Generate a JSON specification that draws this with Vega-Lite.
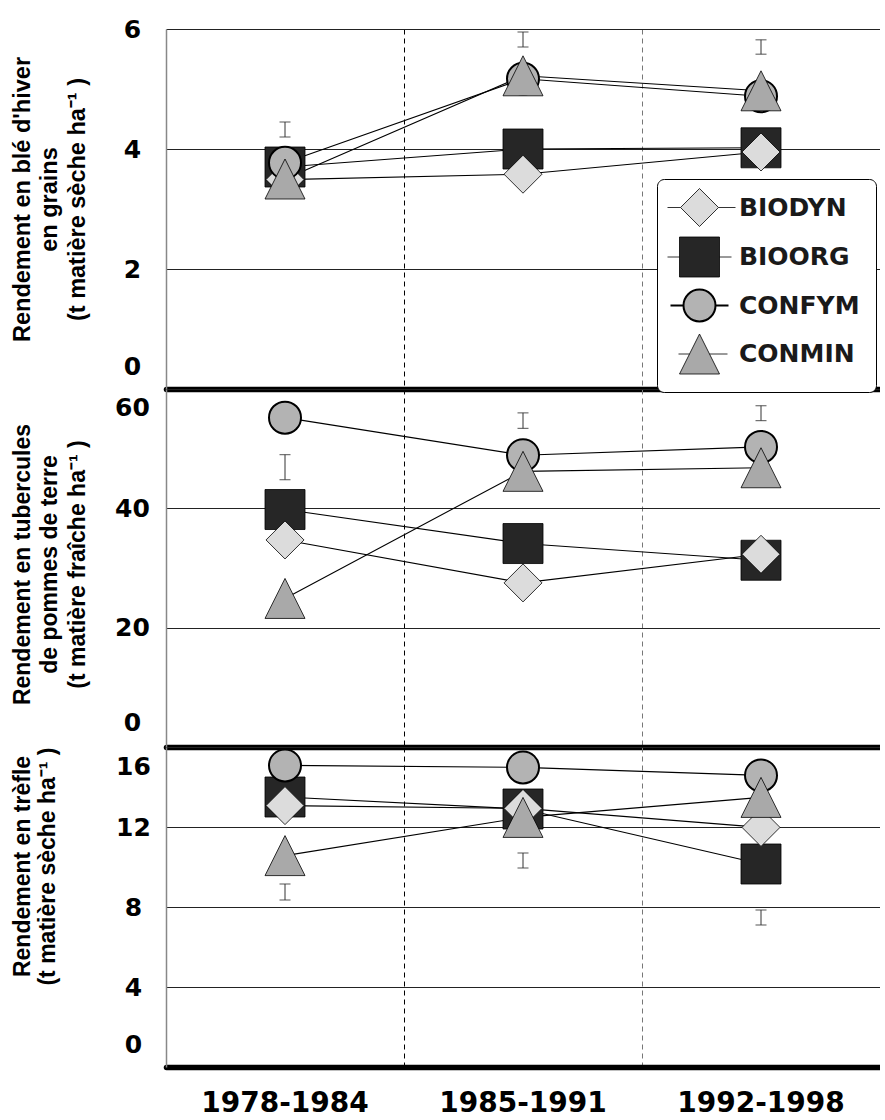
{
  "$schema": "https://vega.github.io/schema/vega-lite/v6.json",
  "background": "white",
  "padding": {"left": 10, "top": 17, "right": 0, "bottom": 0},
  "spacing": 0,
  "bounds": "flush",
  "config": {
    "view": {"stroke": null},
    "legend": {"orient": "none", "legendX": 491, "legendY": 150, "padding": 16,
      "strokeColor": "black", "fillColor": "white", "cornerRadius": 7, "symbolSize": 1600, "rowPadding": 5.5,
      "symbolOffset": 14, "labelOffset": 27, "labelFont": "DejaVu Sans", "labelFontSize": 25, "labelFontWeight": "bold", "labelColor": "#1a1a1a",
      "symbolStrokeColor": "black", "labelLimit": 400}
  },
  "datasets": {
    "pts": [
      {"panel": "ble", "period": "1978-1984", "series": "BIOORG", "value": 3.70},
      {"panel": "ble", "period": "1978-1984", "series": "BIODYN", "value": 3.49},
      {"panel": "ble", "period": "1978-1984", "series": "CONFYM", "value": 3.77},
      {"panel": "ble", "period": "1978-1984", "series": "CONMIN", "value": 3.50},
      {"panel": "ble", "period": "1985-1991", "series": "BIOORG", "value": 4.00},
      {"panel": "ble", "period": "1985-1991", "series": "BIODYN", "value": 3.58},
      {"panel": "ble", "period": "1985-1991", "series": "CONFYM", "value": 5.17},
      {"panel": "ble", "period": "1985-1991", "series": "CONMIN", "value": 5.22},
      {"panel": "ble", "period": "1992-1998", "series": "BIOORG", "value": 4.02},
      {"panel": "ble", "period": "1992-1998", "series": "BIODYN", "value": 3.95},
      {"panel": "ble", "period": "1992-1998", "series": "CONFYM", "value": 4.88},
      {"panel": "ble", "period": "1992-1998", "series": "CONMIN", "value": 4.97},
      {"panel": "pdt", "period": "1978-1984", "series": "BIOORG", "value": 39.8},
      {"panel": "pdt", "period": "1978-1984", "series": "BIODYN", "value": 34.7},
      {"panel": "pdt", "period": "1978-1984", "series": "CONFYM", "value": 55.2},
      {"panel": "pdt", "period": "1978-1984", "series": "CONMIN", "value": 24.9},
      {"panel": "pdt", "period": "1985-1991", "series": "BIOORG", "value": 34.1},
      {"panel": "pdt", "period": "1985-1991", "series": "BIODYN", "value": 27.5},
      {"panel": "pdt", "period": "1985-1991", "series": "CONFYM", "value": 48.9},
      {"panel": "pdt", "period": "1985-1991", "series": "CONMIN", "value": 46.2},
      {"panel": "pdt", "period": "1992-1998", "series": "BIOORG", "value": 31.3},
      {"panel": "pdt", "period": "1992-1998", "series": "BIODYN", "value": 32.3},
      {"panel": "pdt", "period": "1992-1998", "series": "CONFYM", "value": 50.3},
      {"panel": "pdt", "period": "1992-1998", "series": "CONMIN", "value": 46.8},
      {"panel": "tre", "period": "1978-1984", "series": "BIOORG", "value": 13.5},
      {"panel": "tre", "period": "1978-1984", "series": "BIODYN", "value": 13.07},
      {"panel": "tre", "period": "1978-1984", "series": "CONFYM", "value": 15.08},
      {"panel": "tre", "period": "1978-1984", "series": "CONMIN", "value": 10.57},
      {"panel": "tre", "period": "1985-1991", "series": "BIOORG", "value": 12.9},
      {"panel": "tre", "period": "1985-1991", "series": "BIODYN", "value": 12.93},
      {"panel": "tre", "period": "1985-1991", "series": "CONFYM", "value": 14.98},
      {"panel": "tre", "period": "1985-1991", "series": "CONMIN", "value": 12.48},
      {"panel": "tre", "period": "1992-1998", "series": "BIOORG", "value": 10.15},
      {"panel": "tre", "period": "1992-1998", "series": "BIODYN", "value": 11.98},
      {"panel": "tre", "period": "1992-1998", "series": "CONFYM", "value": 14.58},
      {"panel": "tre", "period": "1992-1998", "series": "CONMIN", "value": 13.48}
    ],
    "err": [
      {"panel": "ble", "period": "1978-1984", "value": 4.2, "hi": 4.45},
      {"panel": "ble", "period": "1985-1991", "value": 5.7, "hi": 5.95},
      {"panel": "ble", "period": "1992-1998", "value": 5.58, "hi": 5.82},
      {"panel": "pdt", "period": "1978-1984", "value": 44.8, "hi": 49.0},
      {"panel": "pdt", "period": "1985-1991", "value": 53.4, "hi": 56.0},
      {"panel": "pdt", "period": "1992-1998", "value": 54.7, "hi": 57.2},
      {"panel": "tre", "period": "1978-1984", "value": 8.35, "hi": 9.15},
      {"panel": "tre", "period": "1985-1991", "value": 9.95, "hi": 10.7},
      {"panel": "tre", "period": "1992-1998", "value": 7.1, "hi": 7.85}
    ]
  },
  "vconcat": [
    {
      "width": 714,
      "height": 360,
      "encoding": {
        "x": {"field": "period", "type": "nominal",
          "scale": {"domain": ["1978-1984", "1985-1991", "1992-1998"], "paddingInner": 0, "paddingOuter": 0},
          "axis": {"title": null, "labels": false, "ticks": false, "domainColor": "black", "domainWidth": 5.5, "domainCap": "round",
            "grid": true, "bandPosition": 0, "gridDash": [5, 4], "gridWidth": 1,
            "gridColor": {"condition": {"test": "datum.value === '1992-1998'", "value": "#777777"}, "value": "black"},
            "gridOpacity": {"condition": {"test": "datum.value === '1978-1984'", "value": 0}, "value": 1}}},
        "y": {"field": "value", "type": "quantitative", "scale": {"domain": [0, 6], "nice": false},
          "axis": {"values": [0, 2, 4, 6], "title": ["Rendement en blé d'hiver", "en grains", "(t matière sèche ha⁻¹ )"],
            "domainColor": "#888888", "domainWidth": 1.5, "ticks": false, "tickSize": 0,
            "grid": true, "gridColor": "#222222", "gridWidth": 1,
            "labelFont": "DejaVu Sans", "labelFontSize": 25, "labelFontWeight": "bold", "labelColor": "black",
            "labelAlign": "center", "labelBaseline": "middle", "labelPadding": 34, "labelOverlap": false,
            "labelOffset": {"condition": [{"test": "datum.value === 0", "value": -23}], "value": 0},
            "titleFont": "Liberation Sans", "titleFontSize": 23.5, "titleFontWeight": "bold", "titleColor": "black",
            "titleLineHeight": 27.5, "titleBaseline": "middle", "titleAlign": "center", "titleAngle": 270,
            "titleX": -144, "titleY": 170}}
      },
      "layer": [
        {"data": {"name": "pts"}, "transform": [{"filter": "datum.panel === 'ble'"}],
          "mark": {"type": "line", "color": "black", "strokeWidth": 1.1},
          "encoding": {"detail": {"field": "series"}}},
        {"data": {"name": "err"}, "transform": [{"filter": "datum.panel === 'ble'"}],
          "mark": {"type": "errorbar", "ticks": {"size": 11, "thickness": 1.2, "color": "#333333"}, "rule": {"color": "#333333", "strokeWidth": 1}},
          "encoding": {"y2": {"field": "hi"}}},
        {"data": {"name": "pts"}, "transform": [{"filter": "datum.panel === 'ble'"}],
          "mark": {"type": "point", "filled": true, "size": 1600, "stroke": "black", "opacity": 1},
          "encoding": {
            "shape": {"field": "series", "type": "nominal",
              "scale": {"domain": ["BIOORG", "BIODYN", "CONFYM", "CONMIN"],
                "range": ["M-1,-1L1,-1L1,1L-1,1Z", "M-0.95,0L0,-0.95L0.95,0L0,0.95Z", "M-0.8,0A0.8,0.8,0,1,1,0.8,0A0.8,0.8,0,1,1,-0.8,0Z", "M0,-1L1,1L-1,1Z"]},
              "legend": null},
            "fill": {"field": "series", "type": "nominal",
              "scale": {"domain": ["BIODYN", "BIOORG", "CONFYM", "CONMIN"], "range": ["#dcdcdc", "#262626", "#b3b3b3", "#a9a9a9"]},
              "legend": {"title": null,
                "encoding": {"symbols": {
                  "stroke": {"value": "black"},
                  "strokeWidth": {"value": {"expr": "datum.value === 'CONFYM' ? 2 : 0.8"}},
                  "shape": {"value": {"expr": "datum.value === 'BIODYN' ? 'M-1.6,0L-0.95,0M0.95,0L1.8,0M-0.95,0L0,-0.95L0.95,0L0,0.95Z' : datum.value === 'BIOORG' ? 'M-1.6,0L-1,0M1,0L1.6,0M-1,-1L1,-1L1,1L-1,1Z' : datum.value === 'CONFYM' ? 'M-1.45,0L-0.8,0M0.8,0L1.45,0M-0.8,0A0.8,0.8,0,1,1,0.8,0A0.8,0.8,0,1,1,-0.8,0Z' : 'M-1.05,0L-0.5,0M0.5,0L1.4,0M0,-1L1,1L-1,1Z'"}}}}}},
            "strokeWidth": {"condition": {"test": "datum.series === 'CONFYM'", "value": 2}, "value": 0.8}
          }}
      ]
    },
    {
      "width": 714,
      "height": 358,
      "encoding": {
        "x": {"field": "period", "type": "nominal",
          "scale": {"domain": ["1978-1984", "1985-1991", "1992-1998"], "paddingInner": 0, "paddingOuter": 0},
          "axis": {"title": null, "labels": false, "ticks": false, "domainColor": "black", "domainWidth": 5.5, "domainCap": "round",
            "grid": true, "bandPosition": 0, "gridDash": [5, 4], "gridWidth": 1,
            "gridColor": {"condition": {"test": "datum.value === '1992-1998'", "value": "#777777"}, "value": "black"},
            "gridOpacity": {"condition": {"test": "datum.value === '1978-1984'", "value": 0}, "value": 1}}},
        "y": {"field": "value", "type": "quantitative", "scale": {"domain": [0, 60], "nice": false},
          "axis": {"values": [0, 20, 40, 60], "title": ["Rendement en tubercules", "de pommes de terre", "(t matière fraîche ha⁻¹ )"],
            "domainColor": "#888888", "domainWidth": 1.5, "ticks": false, "tickSize": 0,
            "grid": true, "gridColor": "#222222", "gridWidth": 1,
            "labelFont": "DejaVu Sans", "labelFontSize": 25, "labelFontWeight": "bold", "labelColor": "black",
            "labelAlign": "center", "labelBaseline": "middle", "labelPadding": 34, "labelOverlap": false,
            "labelOffset": {"condition": [{"test": "datum.value === 0", "value": -25}, {"test": "datum.value === 60", "value": 18}], "value": 0},
            "titleFont": "Liberation Sans", "titleFontSize": 23, "titleFontWeight": "bold", "titleColor": "black",
            "titleLineHeight": 27.5, "titleBaseline": "middle", "titleAlign": "center", "titleAngle": 270,
            "titleX": -144, "titleY": 175}}
      },
      "layer": [
        {"data": {"name": "pts"}, "transform": [{"filter": "datum.panel === 'pdt'"}],
          "mark": {"type": "line", "color": "black", "strokeWidth": 1.1},
          "encoding": {"detail": {"field": "series"}}},
        {"data": {"name": "err"}, "transform": [{"filter": "datum.panel === 'pdt'"}],
          "mark": {"type": "errorbar", "ticks": {"size": 11, "thickness": 1.2, "color": "#333333"}, "rule": {"color": "#333333", "strokeWidth": 1}},
          "encoding": {"y2": {"field": "hi"}}},
        {"data": {"name": "pts"}, "transform": [{"filter": "datum.panel === 'pdt'"}],
          "mark": {"type": "point", "filled": true, "size": 1600, "stroke": "black", "opacity": 1},
          "encoding": {
            "shape": {"field": "series", "type": "nominal",
              "scale": {"domain": ["BIOORG", "BIODYN", "CONFYM", "CONMIN"],
                "range": ["M-1,-1L1,-1L1,1L-1,1Z", "M-0.95,0L0,-0.95L0.95,0L0,0.95Z", "M-0.8,0A0.8,0.8,0,1,1,0.8,0A0.8,0.8,0,1,1,-0.8,0Z", "M0,-1L1,1L-1,1Z"]},
              "legend": null},
            "fill": {"field": "series", "type": "nominal",
              "scale": {"domain": ["BIODYN", "BIOORG", "CONFYM", "CONMIN"], "range": ["#dcdcdc", "#262626", "#b3b3b3", "#a9a9a9"]},
              "legend": null},
            "strokeWidth": {"condition": {"test": "datum.series === 'CONFYM'", "value": 2}, "value": 0.8}
          }}
      ]
    },
    {
      "width": 714,
      "height": 320,
      "encoding": {
        "x": {"field": "period", "type": "nominal",
          "scale": {"domain": ["1978-1984", "1985-1991", "1992-1998"], "paddingInner": 0, "paddingOuter": 0},
          "axis": {"title": null, "labels": true, "ticks": false, "domainColor": "black", "domainWidth": 5.5, "domainCap": "round",
            "labelFont": "DejaVu Sans", "labelFontSize": 28, "labelFontWeight": "bold", "labelColor": "black", "labelAngle": 0,
            "labelPadding": 22, "labelBaseline": "top",
            "grid": true, "bandPosition": 0, "gridDash": [5, 4], "gridWidth": 1,
            "gridColor": {"condition": {"test": "datum.value === '1992-1998'", "value": "#777777"}, "value": "black"},
            "gridOpacity": {"condition": {"test": "datum.value === '1978-1984'", "value": 0}, "value": 1}}},
        "y": {"field": "value", "type": "quantitative", "scale": {"domain": [0, 16], "nice": false},
          "axis": {"values": [0, 4, 8, 12, 16], "title": ["Rendement en trèfle", "(t matière sèche ha⁻¹ )"],
            "domainColor": "#888888", "domainWidth": 1.5, "ticks": false, "tickSize": 0,
            "grid": true, "gridColor": "#222222", "gridWidth": 1,
            "labelFont": "DejaVu Sans", "labelFontSize": 25, "labelFontWeight": "bold", "labelColor": "black",
            "labelAlign": "center", "labelBaseline": "middle", "labelPadding": 33, "labelOverlap": false,
            "labelOffset": {"condition": [{"test": "datum.value === 0", "value": -23}, {"test": "datum.value === 16", "value": 19}], "value": 0},
            "titleFont": "Liberation Sans", "titleFontSize": 23, "titleFontWeight": "bold", "titleColor": "black",
            "titleLineHeight": 25, "titleBaseline": "middle", "titleAlign": "center", "titleAngle": 270,
            "titleX": -144, "titleY": 119}}
      },
      "layer": [
        {"data": {"name": "pts"}, "transform": [{"filter": "datum.panel === 'tre'"}],
          "mark": {"type": "line", "color": "black", "strokeWidth": 1.1},
          "encoding": {"detail": {"field": "series"}}},
        {"data": {"name": "err"}, "transform": [{"filter": "datum.panel === 'tre'"}],
          "mark": {"type": "errorbar", "ticks": {"size": 11, "thickness": 1.2, "color": "#333333"}, "rule": {"color": "#333333", "strokeWidth": 1}},
          "encoding": {"y2": {"field": "hi"}}},
        {"data": {"name": "pts"}, "transform": [{"filter": "datum.panel === 'tre'"}],
          "mark": {"type": "point", "filled": true, "size": 1600, "stroke": "black", "opacity": 1},
          "encoding": {
            "shape": {"field": "series", "type": "nominal",
              "scale": {"domain": ["BIOORG", "BIODYN", "CONFYM", "CONMIN"],
                "range": ["M-1,-1L1,-1L1,1L-1,1Z", "M-0.95,0L0,-0.95L0.95,0L0,0.95Z", "M-0.8,0A0.8,0.8,0,1,1,0.8,0A0.8,0.8,0,1,1,-0.8,0Z", "M0,-1L1,1L-1,1Z"]},
              "legend": null},
            "fill": {"field": "series", "type": "nominal",
              "scale": {"domain": ["BIODYN", "BIOORG", "CONFYM", "CONMIN"], "range": ["#dcdcdc", "#262626", "#b3b3b3", "#a9a9a9"]},
              "legend": null},
            "strokeWidth": {"condition": {"test": "datum.series === 'CONFYM'", "value": 2}, "value": 0.8}
          }}
      ]
    }
  ]
}
